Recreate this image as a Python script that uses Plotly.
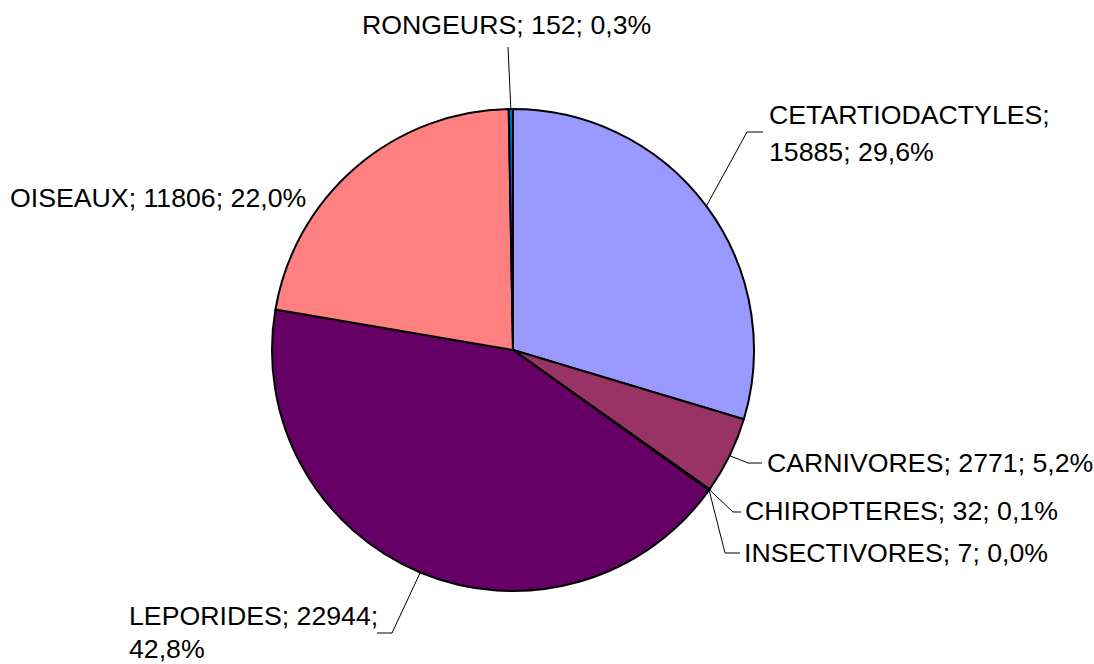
import math
import plotly.graph_objects as go

W, H = 1094, 664

categories = ["CETARTIODACTYLES", "CARNIVORES", "CHIROPTERES", "INSECTIVORES",
              "LEPORIDES", "OISEAUX", "RONGEURS"]
values = [15885, 2771, 32, 7, 22944, 11806, 152]
colors = ["#9999FF", "#993366", "#FFFFCC", "#CCFFFF", "#660066", "#FF8080", "#0066CC"]

# Layout of the pie (pixels)
CX, CY, R = 513, 350, 241

# Label placement (pixels): list of (x, y) per text line, anchor, and leader elbow
label_layout = {
    "CETARTIODACTYLES": dict(lines=[(767, 115), (767, 152)], xanchor="left",
                             elbow=(747, 132), end=(763, 132), split=1),
    "CARNIVORES": dict(lines=[(765, 463)], xanchor="left", elbow=(748, 463), end=(762, 463), split=None),
    "CHIROPTERES": dict(lines=[(743, 511)], xanchor="left", elbow=(733, 512), end=(741, 512), split=None),
    "INSECTIVORES": dict(lines=[(742, 553)], xanchor="left", elbow=(725, 553), end=(740, 553), split=None),
    "LEPORIDES": dict(lines=[(127, 616), (127, 649)], xanchor="left",
                      elbow=(392, 633), end=(377, 633), split=2),
    "OISEAUX": dict(lines=[(8, 198)], xanchor="left", elbow=None, end=None, split=None),
    "RONGEURS": dict(lines=[(506, 25)], xanchor="center", elbow=(508, 47), end=None, split=None),
}

def px(x):
    return x / W

def py(y):
    return 1 - y / H

total = sum(values)

fig = go.Figure(go.Pie(
    labels=categories, values=values, sort=False, direction="clockwise", rotation=0,
    marker=dict(colors=colors, line=dict(color="black", width=2)),
    textinfo="none", hoverinfo="label+value+percent",
    domain=dict(x=[px(CX - R), px(CX + R)], y=[py(CY + R), py(CY - R)]),
    showlegend=False,
))

annotations = []
shapes = []
cum = 0
for cat, v in zip(categories, values):
    pct = v / total * 100
    mid = (cum + v / 2) / total * 2 * math.pi
    cum += v
    ex = CX + R * math.sin(mid)
    ey = CY - R * math.cos(mid)
    parts = [cat, f"{v}", f"{pct:.1f}".replace(".", ",") + "%"]
    L = label_layout[cat]
    full = "; ".join(parts)
    if L["split"] is None:
        texts = [full]
    else:
        s = L["split"]
        texts = ["; ".join(parts[:s]) + ";", "; ".join(parts[s:])]
    for (tx, ty), t in zip(L["lines"], texts):
        annotations.append(dict(
            x=px(tx), y=py(ty), xref="paper", yref="paper", text=t, showarrow=False,
            xanchor=L["xanchor"], yanchor="middle",
            font=dict(family="Liberation Sans, Arial, sans-serif", size=26.7, color="black"),
        ))
    if L["elbow"] is not None:
        bx, by = L["elbow"]
        shapes.append(dict(type="line", xref="paper", yref="paper",
                           x0=px(ex), y0=py(ey), x1=px(bx), y1=py(by),
                           line=dict(color="black", width=1)))
        if L["end"] is not None:
            qx, qy = L["end"]
            shapes.append(dict(type="line", xref="paper", yref="paper",
                               x0=px(bx), y0=py(by), x1=px(qx), y1=py(qy),
                               line=dict(color="black", width=1)))

fig.update_layout(
    width=W, height=H, margin=dict(l=0, r=0, t=0, b=0),
    paper_bgcolor="white", plot_bgcolor="white",
    annotations=annotations, shapes=shapes,
)

fig.write_html("out.html", config={"displayModeBar": False},
               post_script="document.body.style.margin='0';document.body.style.overflow='hidden';")
